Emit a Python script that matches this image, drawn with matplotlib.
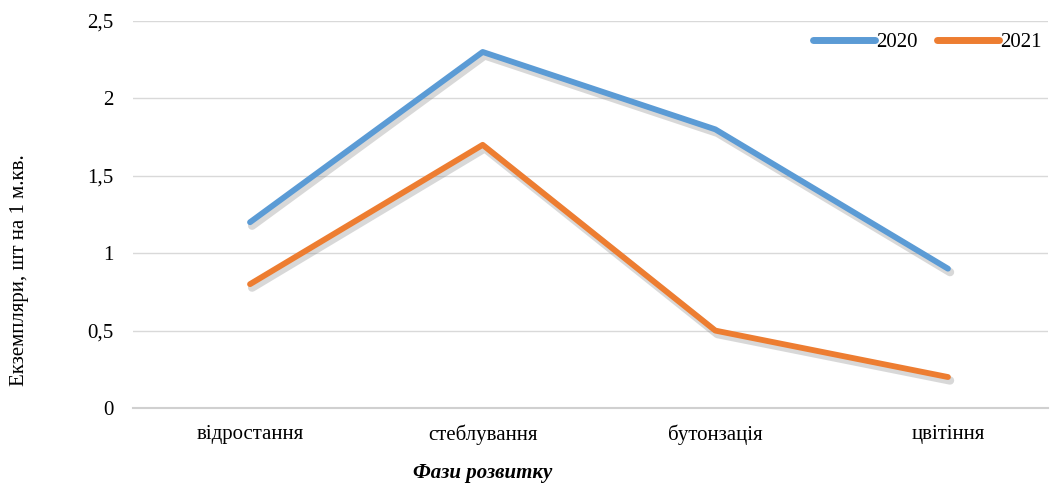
import matplotlib
matplotlib.use("Agg")
import matplotlib.pyplot as plt
import matplotlib.patheffects as pe
from matplotlib.ticker import FuncFormatter

categories = ["відростання", "стеблування", "бутонзація", "цвітіння"]
series_2020 = [1.2, 2.3, 1.8, 0.9]
series_2021 = [0.8, 1.7, 0.5, 0.2]
labels = ["2020", "2021"]
yticks = [0, 0.5, 1, 1.5, 2, 2.5]

plt.rcParams['font.family'] = ['Liberation Serif', 'DejaVu Serif']
FS = 15

fig = plt.figure(figsize=(10.52, 4.84), dpi=100)
ax = fig.add_axes([133/1052, 76/484, (1048-133)/1052, (408-21)/484])

x = list(range(len(categories)))
shadow = [pe.SimpleLineShadow(offset=(1.5, -2.5), shadow_color='gray', alpha=0.3, linewidth=6), pe.Normal()]
ax.plot(x, series_2020, color='#5B9BD5', lw=4.2, solid_capstyle='round', solid_joinstyle='round',
        label=labels[0], path_effects=shadow, zorder=3)
ax.plot(x, series_2021, color='#ED7D31', lw=4.2, solid_capstyle='round', solid_joinstyle='round',
        label=labels[1], path_effects=shadow, zorder=3)

ax.set_xlim(-0.503, 3.43)
ax.set_ylim(0, 2.5)
ax.set_yticks(yticks)
ax.yaxis.set_major_formatter(FuncFormatter(lambda v, p: ('%g' % v).replace('.', ',')))
ax.set_xticks(x)
ax.set_xticklabels(categories)
ax.tick_params(axis='both', length=0, labelsize=FS, colors='#000000')
ax.tick_params(axis='x', pad=12)
ax.tick_params(axis='y', pad=14)
ax.grid(axis='y', color='#D9D9D9', lw=1.0)
ax.set_axisbelow(True)
for s in ['top', 'right', 'left']:
    ax.spines[s].set_visible(False)
ax.spines['bottom'].set_color('#D0D0D0')
ax.spines['bottom'].set_linewidth(1.5)

fig.text(20/1052, 1 - 270/484, "Екземпляри, шт на 1 м.кв.", rotation=90, ha='center', va='center', fontsize=FS)
fig.text(483/1052, 1 - 473/484, "Фази розвитку", ha='center', va='center', fontsize=FS,
         fontweight='bold', fontstyle='italic')

leg = ax.legend(loc='center right', bbox_to_anchor=(1050/1052, 1 - 42/484), bbox_transform=fig.transFigure,
                ncol=2, frameon=False, fontsize=FS, handlelength=3.0, handletextpad=0.05,
                columnspacing=0.9, borderaxespad=0)
for h in leg.get_lines():
    h.set_path_effects([])
    h.set_linewidth(5)

fig.savefig("out.png", dpi=100)
